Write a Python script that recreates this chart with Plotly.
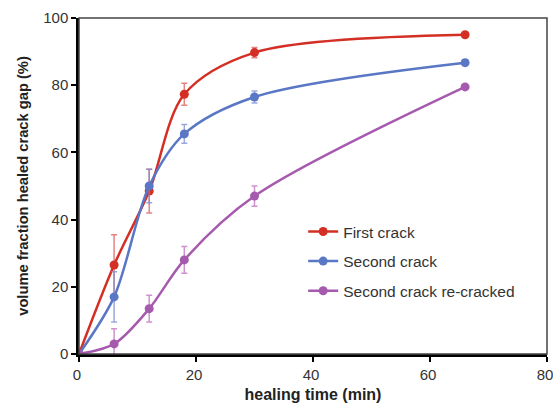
import plotly.graph_objects as go

time_min = [0, 6, 12, 18, 30, 66]
first_crack = [0, 26.5, 48.5, 77.3, 89.7, 95.0]
first_err = [0.3, 9.0, 6.5, 3.3, 1.5, 0.6]
second_crack = [0, 17.0, 50.0, 65.5, 76.5, 86.7]
second_err = [0.3, 7.5, 5.0, 2.8, 1.8, 0.8]
recracked = [0, 3.0, 13.5, 28.0, 47.0, 79.5]
recracked_err = [0.3, 4.5, 4.0, 4.0, 3.0, 0.6]

series = [
    ("First crack", first_crack, first_err, "#d42f24", "rgba(220,90,90,0.75)"),
    ("Second crack", second_crack, second_err, "#5a77c6", "rgba(120,140,210,0.75)"),
    ("Second crack re-cracked", recracked, recracked_err, "#a65aae", "rgba(190,110,190,0.75)"),
]

fig = go.Figure()
for i, (name, ys, es, col, ecol) in enumerate(series):
    fig.add_trace(go.Scatter(
        x=time_min, y=ys, name=name, mode="lines+markers", legendgroup=f"g{i}",
        line=dict(color=col, width=2.5, shape="spline", smoothing=0.9),
        marker=dict(color=col, size=9),
        error_y=dict(type="data", array=es, visible=True, color=ecol, thickness=1.5, width=3),
    ))

fig.update_layout(
    width=553, height=404,
    margin=dict(l=79, r=6, t=18, b=50, autoexpand=False),
    paper_bgcolor="white", plot_bgcolor="white",
    font=dict(family="Liberation Sans, Arial, sans-serif", size=15, color="#333"),
    showlegend=True,
    legend=dict(x=0.479, y=0.414, xanchor="left", yanchor="top",
                bgcolor="rgba(0,0,0,0)", font=dict(size=15.5, color="#333"),
                tracegroupgap=6.5, itemwidth=30),
    shapes=[dict(type="rect", xref="paper", yref="paper", x0=0, y0=0, x1=1, y1=1,
                 line=dict(color="#444", width=1.5), layer="above")],
)
fig.update_xaxes(range=[0, 80], dtick=20, showgrid=False, zeroline=False,
                 showline=True, linecolor="black", linewidth=2.5,
                 ticks="outside", ticklen=5, tickwidth=1.5, tickcolor="black",
                 ticklabeloverflow="allow", ticklabelshift=-2,
                 title=dict(text="<b>healing time (min)</b>", font=dict(size=16, color="#222"), standoff=8))
fig.update_yaxes(range=[0, 100], dtick=20, showgrid=False, zeroline=False,
                 showline=True, linecolor="black", linewidth=2.5,
                 ticks="outside", ticklen=5, tickwidth=1.5, tickcolor="black",
                 title=dict(text="<b>volume fraction healed crack gap (%)</b>", font=dict(size=14.7, color="#222"), standoff=12))

fig.write_html("out.html", config={"displayModeBar": False},
               post_script="document.body.style.margin='0';document.body.style.overflow='hidden';")
